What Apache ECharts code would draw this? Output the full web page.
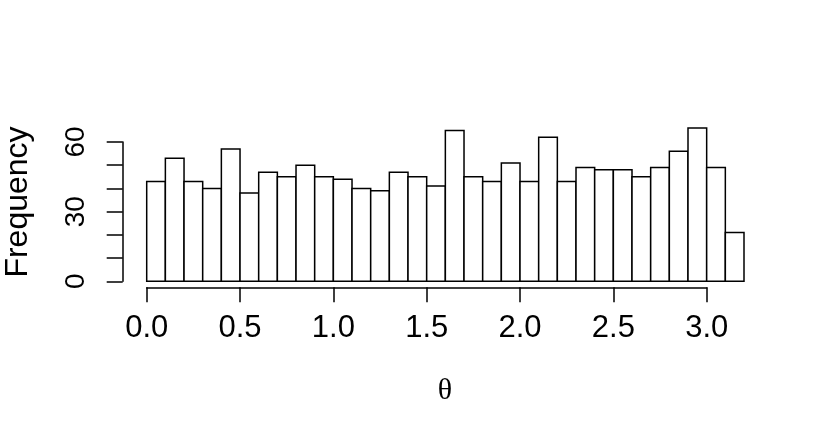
<!DOCTYPE html>
<html>
<head>
<meta charset="utf-8">
<script src="https://cdn.jsdelivr.net/npm/echarts@6/dist/echarts.min.js"></script>
<style>
  html, body { margin: 0; padding: 0; background: #fff; }
  #chart { width: 830px; height: 440px; }
</style>
</head>
<body>
<div id="chart"></div>
<script>
// histogram bins (width 0.1) and their counts
const binStarts = [0.0, 0.1, 0.2, 0.3, 0.4, 0.5, 0.6, 0.7, 0.8, 0.9, 1.0, 1.1, 1.2, 1.3, 1.4, 1.5,
  1.6, 1.7, 1.8, 1.9, 2.0, 2.1, 2.2, 2.3, 2.4, 2.5, 2.6, 2.7, 2.8, 2.9, 3.0, 3.1];
const binEnds = [0.1, 0.2, 0.3, 0.4, 0.5, 0.6, 0.7, 0.8, 0.9, 1.0, 1.1, 1.2, 1.3, 1.4, 1.5, 1.6,
  1.7, 1.8, 1.9, 2.0, 2.1, 2.2, 2.3, 2.4, 2.5, 2.6, 2.7, 2.8, 2.9, 3.0, 3.1, 3.2];
const counts = [43, 53, 43, 40, 57, 38, 47, 45, 50, 45, 44, 40, 39, 47, 45, 41,
  65, 45, 43, 51, 43, 62, 43, 49, 48, 48, 45, 49, 56, 66, 49, 21];
const yLabels = [0, 30, 60];

const font = "'Liberation Sans', Arial, Helvetica, sans-serif";
const chart = echarts.init(document.getElementById("chart"), null, { renderer: "canvas" });

const axisLine = { show: true, lineStyle: { color: "#000", width: 1.5 } };

chart.setOption({
  animation: false,
  backgroundColor: "#fff",
  grid: [
    // bars
    { left: 146.7, right: 86, top: 118.8, bottom: 158.7 },
    // x axis (0 .. 3)
    { left: 146.7, width: 560, top: 280, height: 7.3 },
    // y axis (0 .. 60)
    { left: 122.7, width: 10, top: 142, height: 139.3 },
  ],
  xAxis: [
    { gridIndex: 0, type: "value", min: 0, max: 3.2, show: false },
    {
      gridIndex: 1,
      type: "value",
      min: 0,
      max: 3,
      interval: 0.5,
      position: "bottom",
      axisLine,
      axisTick: { show: true, length: 15, inside: false, lineStyle: { color: "#000", width: 1.5 } },
      axisLabel: {
        color: "#000",
        fontFamily: font,
        fontSize: 31,
        margin: 26,
        formatter: (v) => v.toFixed(1),
      },
      splitLine: { show: false },
    },
    { gridIndex: 2, type: "value", show: false },
  ],
  yAxis: [
    { gridIndex: 0, type: "value", min: 0, max: 70, show: false },
    { gridIndex: 1, type: "value", show: false },
    {
      gridIndex: 2,
      type: "value",
      min: 0,
      max: 60,
      interval: 10,
      position: "left",
      axisLine,
      axisTick: { show: true, length: 16, inside: false, lineStyle: { color: "#000", width: 1.5 } },
      axisLabel: {
        color: "#000",
        fontFamily: font,
        fontSize: 28,
        rotate: 90,
        margin: 32,
        formatter: (v) => (yLabels.includes(v) ? String(v) : ""),
      },
      splitLine: { show: false },
    },
  ],
  graphic: [
    {
      type: "text",
      x: 18,
      y: 202,
      rotation: Math.PI / 2,
      style: {
        text: "Frequency",
        fill: "#000",
        font: `32px ${font}`,
        textAlign: "center",
        textVerticalAlign: "middle",
      },
    },
    {
      type: "text",
      x: 445,
      y: 391,
      style: {
        text: "θ",
        fill: "#000",
        font: "30px 'Liberation Serif', 'DejaVu Serif', serif",
        textAlign: "center",
        textVerticalAlign: "middle",
      },
    },
  ],
  series: [
    {
      type: "custom",
      xAxisIndex: 0,
      yAxisIndex: 0,
      data: counts.map((c, i) => [binStarts[i], binEnds[i], c]),
      renderItem(params, api) {
        const p0 = api.coord([api.value(0), api.value(2)]);
        const p1 = api.coord([api.value(1), 0]);
        return {
          type: "rect",
          shape: { x: p0[0], y: p0[1], width: p1[0] - p0[0], height: p1[1] - p0[1] },
          style: { fill: "#fff", stroke: "#000", lineWidth: 1.5 },
        };
      },
    },
  ],
});
</script>
</body>
</html>
